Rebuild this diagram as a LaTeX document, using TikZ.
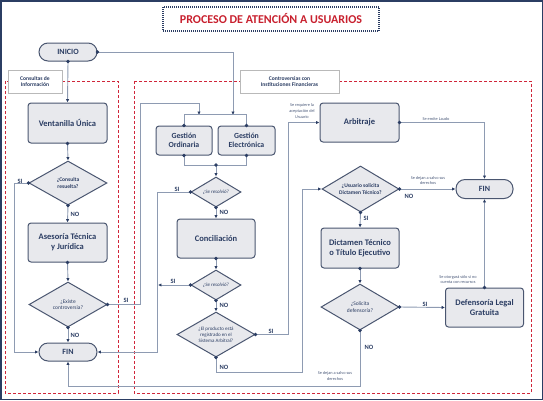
\documentclass[tikz,border=0pt]{standalone}
\usepackage{fontspec}
\setmainfont{Carlito}
\usetikzlibrary{shapes.geometric, arrows.meta}

\definecolor{navy}{HTML}{2B3D63}
\definecolor{slate}{HTML}{4A5670}
\definecolor{boxfill}{HTML}{E8E9ED}
\definecolor{wire}{HTML}{8E9BB2}
\definecolor{dashred}{HTML}{D0263A}
\definecolor{titlered}{HTML}{C8202E}

\tikzset{
  Knob/.tip={Circle[length=3.4pt,sep=-1.7pt,color=navy]},
  Head/.tip={Latex[length=3.4pt,width=3.4pt,color=navy]}
}

\begin{document}
\begin{tikzpicture}[x=1pt, y=-1pt,
    proc/.style={rectangle, rounded corners=3pt, draw=slate, fill=boxfill, line width=1pt,
      minimum width=79pt, minimum height=40pt, align=center, text=navy,
      font=\fontsize{8.5}{10}\selectfont\bfseries},
    term/.style={rectangle, rounded corners=9pt, draw=slate, fill=boxfill, line width=1pt,
      minimum width=58pt, minimum height=18pt, text=navy, font=\fontsize{8}{9}\selectfont\bfseries},
    decision/.style={diamond, aspect=1.75, draw=slate, fill=boxfill, line width=1pt, inner sep=0pt,
      minimum width=78pt, minimum height=45pt, align=center, text=navy,
      font=\fontsize{5.3}{6.3}\selectfont},
    flow/.style={draw=wire, line width=0.9pt, Knob-Head},
    yesno/.style={text=navy, inner sep=0pt, font=\fontsize{6.5}{7}\selectfont\bfseries},
    note/.style={text=navy!85, inner sep=0pt, align=center, font=\fontsize{4.3}{5.6}\selectfont},
    area/.style={draw=dashred, line width=1pt, dash pattern=on 3pt off 2pt},
    areatag/.style={draw=gray!55, fill=white, line width=0.8pt, align=center, text=navy,
      font=\fontsize{5.6}{6.6}\selectfont\bfseries}]

    \useasboundingbox (0,0) rectangle (543,400);
    \draw[navy, line width=1.5pt] (0.75,0.75) rectangle (542.25,399.25); % outer frame

    % Title
    \node[draw=navy, line width=1.3pt, dash pattern=on 1pt off 1pt, minimum width=216pt, minimum height=24pt,
      text=titlered, font=\fontsize{12}{14}\selectfont\bfseries] (title) at (271,19) {PROCESO DE ATENCIÓN A USUARIOS};

    % Dashed areas and their tags
    \draw[area] (5,81) rectangle (118,393);
    \draw[area] (134,81) rectangle (531,393);
    \node[areatag, minimum width=54pt, minimum height=23pt] (tagInfo) at (35,81.5) {Consultas de\\Información};
    \node[areatag, minimum width=99pt, minimum height=23pt] (tagContro) at (289.5,81.5) {Controversias con\\Instituciones Financieras};

    % Left column
    \node[term] (inicio) at (68,52) {INICIO};
    \node[proc] (ventanilla) at (67.5,123) {Ventanilla Única};
    \node[decision, font=\fontsize{5.5}{6.5}\selectfont\bfseries, minimum height=44pt] (consulta) at (68,183) {¿Consulta\\resuelta?};
    \node[proc, minimum height=39pt] (asesoria) at (67.5,242.5) {Asesoría Técnica\\y Jurídica};
    \node[decision, font=\fontsize{5.5}{6.5}\selectfont] (existe) at (68,304.5) {¿Existe\\controversia?};
    \node[term] (finL) at (68,352) {FIN};

    % Middle column
    \node[proc, minimum width=56pt, minimum height=29pt, font=\fontsize{7.8}{9.3}\selectfont\bfseries] (gord) at (184,140.5) {Gestión\\Ordinaria};
    \node[proc, minimum width=57pt, minimum height=29pt, font=\fontsize{7.8}{9.3}\selectfont\bfseries] (gele) at (246.5,140.5) {Gestión\\Electrónica};
    \node[decision, minimum width=50pt, minimum height=30pt, font=\fontsize{5}{6}\selectfont\itshape] (res1) at (216,192) {¿Se resolvió?};
    \node[proc, minimum width=78pt, minimum height=39pt] (concil) at (216,238.5) {Conciliación};
    \node[decision, minimum width=50pt, minimum height=30pt, font=\fontsize{5}{6}\selectfont\itshape] (res2) at (216,285) {¿Se resolvió?};
    \node[decision, font=\fontsize{5}{6}\selectfont] (registro) at (216,334.5) {¿El producto está\\registrado en el\\Sistema Arbitral?};

    % Right column
    \node[proc, minimum height=39pt] (arbitraje) at (359.5,122.5) {Arbitraje};
    \node[term, minimum width=57pt, minimum height=19pt] (finR) at (484.5,189) {FIN};
    \node[decision, minimum width=77pt, minimum height=46pt, font=\fontsize{5.5}{6.5}\selectfont\bfseries] (udict) at (360.5,189) {¿Usuario solicita\\Dictamen Técnico?};
    \node[proc, minimum width=78pt] (dictamen) at (360,248) {Dictamen Técnico\\o Título Ejecutivo};
    \node[decision, minimum height=46pt, font=\fontsize{5.5}{6.5}\selectfont] (solicita) at (360,307) {¿Solicita\\defensoría?};
    \node[proc, minimum width=78pt, minimum height=39pt] (defensoria) at (484.5,307.5) {Defensoría Legal\\Gratuita};

    % Join points on the lines
    \coordinate (busO) at (199,115);
    \coordinate (busE) at (233,115);
    \coordinate (busB) at (216,165);
    \coordinate (joinS) at (158,285);

    % Connectors, left column
    \draw[flow] (inicio.south) -- (ventanilla.north);
    \draw[flow] (inicio.east) -| (busE);
    \draw[flow] (ventanilla.south) -- (consulta.north);
    \draw[flow] (consulta.west) -- ++(-14,0) |- (finL.west);
    \draw[flow] (consulta.south) -- (asesoria.north);
    \draw[flow] (asesoria.south) -- (existe.north);
    \draw[flow] (existe.south) -- (finL.north);
    \draw[flow] (existe.east) -- (140,304.5) -- (140,103) -| (busO);

    % Connectors, middle column
    \draw[draw=wire, line width=0.9pt, Knob-Knob] (gord.north) -- ++(0,-11) -| (gele.north);
    \draw[draw=wire, line width=0.9pt, Knob-Knob] (gord.south) -- ++(0,10) -| (gele.south);
    \draw[flow] (busB) -- (res1.north);
    \draw[flow] (res1.west) -- (157,192) |- (finL.east);
    \draw[flow] (res1.south) -- (concil.north);
    \draw[flow] (concil.south) -- (res2.north);
    \draw[flow] (res2.west) -- (joinS);
    \draw[flow] (res2.south) -- (registro.north);
    \draw[flow] (registro.east) -- (288,334.5) |- (arbitraje.west);
    \draw[flow] (registro.south) |- (302,372) |- (udict.west);

    % Connectors, right column
    \draw[flow] (arbitraje.east) -| (finR.north);
    \draw[flow] (udict.east) -- (finR.west);
    \draw[flow] (udict.south) -- (dictamen.north);
    \draw[flow] (dictamen.south) -- (solicita.north);
    \draw[flow] (solicita.east) -- (defensoria.west);
    \draw[flow] (defensoria.north) -- (finR.south);
    \draw[flow] (solicita.south) -- ++(0,56) -| (finL.south);

    % SI / NO labels
    \node[yesno] (siConsulta) at (20,181) {SI};
    \node[yesno] (noConsulta) at (75,214) {NO};
    \node[yesno] (siExiste) at (126,300) {SI};
    \node[yesno] (noExiste) at (75,335) {NO};
    \node[yesno] (siRes1) at (177,189) {SI};
    \node[yesno] (noRes1) at (224,212) {NO};
    \node[yesno] (siRes2) at (173,281) {SI};
    \node[yesno] (noRes2) at (224,305) {NO};
    \node[yesno] (siRegistro) at (271,331) {SI};
    \node[yesno] (noRegistro) at (224,367) {NO};
    \node[yesno] (noUdict) at (409,196) {NO};
    \node[yesno] (siUdict) at (366,218) {SI};
    \node[yesno] (siSolicita) at (425,304) {SI};
    \node[yesno] (noSolicita) at (369,347) {NO};

    % Notes on the lines
    \node[note] (noteAcepta) at (302,111) {Se requiere la\\aceptación del\\Usuario};
    \node[note] (noteLaudo) at (436,119) {Se emite Laudo};
    \node[note] (noteSalvo1) at (428,180.5) {Se dejan a salvo sus\\derechos};
    \node[note] (noteRecursos) at (458,279.5) {Se otorgará sólo si no\\cuenta con recursos};
    \node[note] (noteSalvo2) at (335,376) {Se dejan a salvo sus\\derechos};

\end{tikzpicture}
\end{document}
